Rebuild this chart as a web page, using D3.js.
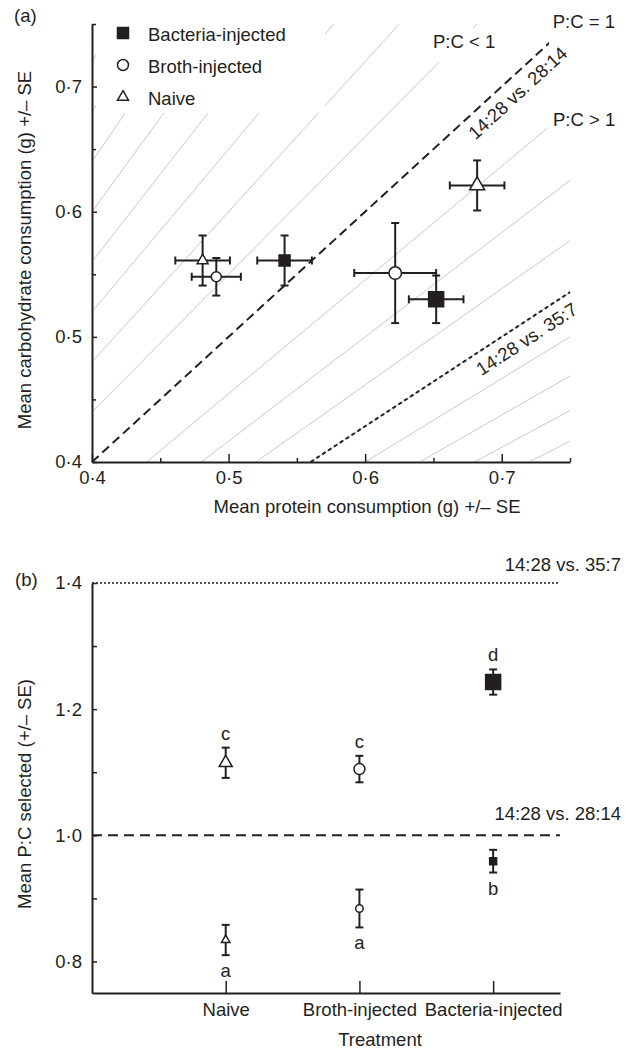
<!DOCTYPE html>
<html>
<head>
<meta charset="utf-8">
<script src="https://cdn.jsdelivr.net/npm/d3@7"></script>
<style>
  body { margin: 0; background: #fff; }
  text { font-family: "Liberation Sans", Arial, Helvetica, sans-serif; fill: #231f20; }
</style>
</head>
<body>
<svg id="chart" width="633" height="1049"></svg>
<script>
// ---- data ----
// panel (a): mean intake per treatment, two choice experiments
const treatmentsA = ["Bacteria-injected", "Broth-injected", "Naive"];
// 14:28 vs. 28:14
const protein2814 = [0.541, 0.491, 0.481];
const proteinSE2814 = [0.02, 0.018, 0.02];
const carb2814 = [0.561, 0.548, 0.561];
const carbSE2814 = [0.02, 0.015, 0.02];
// 14:28 vs. 35:7
const protein357 = [0.652, 0.622, 0.682];
const proteinSE357 = [0.02, 0.03, 0.02];
const carb357 = [0.53, 0.551, 0.621];
const carbSE357 = [0.019, 0.04, 0.02];
// grey P:C guide lines (both sides of 1)
const guideRatios = [1.1, 1.2, 1.3, 1.4, 1.5, 1.6, 1.7, 1.8];
const xMajorA = [0.4, 0.5, 0.6, 0.7];
const xMinorA = [0.45, 0.55, 0.65, 0.75];
const yMajorA = [0.4, 0.5, 0.6, 0.7];
const yMinorA = [0.45, 0.55, 0.65, 0.75];

// panel (b): mean P:C selected
const treatmentsB = ["Naive", "Broth-injected", "Bacteria-injected"];
const ratio2814 = [0.834, 0.884, 0.959];
const ratioSE2814 = [0.024, 0.03, 0.018];
const letters2814 = ["a", "a", "b"];
const ratio357 = [1.115, 1.105, 1.243];
const ratioSE357 = [0.024, 0.021, 0.02];
const letters357 = ["c", "c", "d"];
const yMajorB = [0.8, 1.0, 1.2, 1.4];
const yMinorB = [0.9, 1.1, 1.3];

const ink = "#231f20";
const fontSize = 18.5;
const symbolOf = {
  "Bacteria-injected": d3.symbolSquare,
  "Broth-injected": d3.symbolCircle,
  "Naive": d3.symbolTriangle
};
const fillOf = { "Bacteria-injected": ink, "Broth-injected": "#fff", "Naive": "#fff" };

// marker area from a visual width in px
function symbolArea(name, w) {
  if (name === "Broth-injected") return Math.PI * w * w / 4;
  if (name === "Naive") return Math.sqrt(3) / 4 * w * w;
  return w * w;
}

const fmt = (d) => d3.format(".1f")(d).replace(".", "·");
const svg = d3.select("#chart");

function styleAxis(g) {
  g.attr("font-family", null).attr("font-size", fontSize);
  g.select(".domain").attr("stroke", ink).attr("stroke-width", 2);
  g.selectAll(".tick line").attr("stroke", ink).attr("stroke-width", 1.5);
  g.selectAll(".tick text").attr("fill", ink);
}

function addMarker(g, name, x, y, w) {
  g.append("path")
    .attr("d", d3.symbol(symbolOf[name], symbolArea(name, w))())
    .attr("transform", `translate(${x},${y})`)
    .attr("fill", fillOf[name])
    .attr("stroke", ink)
    .attr("stroke-width", 1.5);
}

function whiteBox(g, x0, y0, x1, y1) {
  g.append("rect").attr("x", x0).attr("y", y0)
    .attr("width", x1 - x0).attr("height", y1 - y0).attr("fill", "#fff");
}

// ================= panel (a) =================
const xA = d3.scaleLinear().domain([0.4, 0.75]).range([92, 570]);
const yA = d3.scaleLinear().domain([0.4, 0.75]).range([462, 24]);
const pa = svg.append("g");

// segment of the line C = k * P inside the plot window
function ratioSegment(k) {
  const [lo, hi] = xA.domain();
  const x1 = Math.max(lo, lo / k);
  const x2 = Math.min(hi, hi / k);
  return [[xA(x1), yA(k * x1)], [xA(x2), yA(k * x2)]];
}

const guideKs = guideRatios.concat(guideRatios.map((r) => 1 / r));
pa.selectAll("line.guide")
  .data(guideKs)
  .enter()
  .append("line")
  .attr("class", "guide")
  .attr("x1", (k) => ratioSegment(k)[0][0])
  .attr("y1", (k) => ratioSegment(k)[0][1])
  .attr("x2", (k) => ratioSegment(k)[1][0])
  .attr("y2", (k) => ratioSegment(k)[1][1])
  .attr("stroke", "#c9c9c9")
  .attr("stroke-width", 1);

// P:C = 1 and P:C = 1.4 choice lines
const choiceLines = [
  { k: 1, dash: "9,5", t: 0.704, label: "14:28 vs. 28:14" },
  { k: 1 / 1.4, dash: "4,3", t: 0.712, label: "14:28 vs. 35:7" }
];
choiceLines.forEach((c) => {
  const s = ratioSegment(c.k);
  pa.append("line")
    .attr("x1", s[0][0]).attr("y1", s[0][1])
    .attr("x2", s[1][0]).attr("y2", s[1][1])
    .attr("stroke", ink)
    .attr("stroke-width", 2)
    .attr("stroke-dasharray", c.dash);
});

// white backgrounds behind legend and region labels
whiteBox(pa, 96, 24, 325, 113);
whiteBox(pa, 427, 28, 499, 62);
whiteBox(pa, 547, 107, 622, 136);
whiteBox(pa, 549, 6, 622, 45);

// rotated labels along the choice lines
choiceLines.forEach((c) => {
  const px = xA(c.t), py = yA(c.k * c.t);
  const ang = Math.atan2(yA(c.k * 0.7) - yA(c.k * 0.5), xA(0.7) - xA(0.5)) * 180 / Math.PI;
  pa.append("text")
    .attr("transform", `translate(${px},${py}) rotate(${ang})`)
    .attr("y", 22)
    .attr("text-anchor", "middle")
    .attr("font-size", fontSize)
    .text(c.label);
});

pa.append("text").attr("x", 615).attr("y", 28).attr("text-anchor", "end")
  .attr("font-size", fontSize).text("P:C = 1");
pa.append("text").attr("x", 433).attr("y", 48)
  .attr("font-size", fontSize).text("P:C < 1");
pa.append("text").attr("x", 553).attr("y", 126)
  .attr("font-size", fontSize).text("P:C > 1");

// axes
pa.append("g")
  .attr("transform", `translate(0,${yA(0.4)})`)
  .call(d3.axisBottom(xA).tickValues(xMinorA).tickFormat("").tickSizeInner(-4).tickSizeOuter(0))
  .call(styleAxis)
  .call((g) => g.select(".domain").remove());
pa.append("g")
  .attr("transform", `translate(0,${yA(0.4)})`)
  .call(d3.axisBottom(xA).tickValues(xMajorA).tickFormat(fmt).tickSizeInner(-8).tickSizeOuter(0).tickPadding(9))
  .call(styleAxis);
pa.append("g")
  .attr("transform", `translate(${xA(0.4)},0)`)
  .call(d3.axisLeft(yA).tickValues(yMinorA).tickFormat("").tickSizeInner(-4).tickSizeOuter(0))
  .call(styleAxis)
  .call((g) => g.select(".domain").remove());
pa.append("g")
  .attr("transform", `translate(${xA(0.4)},0)`)
  .call(d3.axisLeft(yA).tickValues(yMajorA).tickFormat(fmt).tickSizeInner(-5).tickSizeOuter(0).tickPadding(10))
  .call(styleAxis);

pa.append("text")
  .attr("x", 367).attr("y", 513)
  .attr("text-anchor", "middle")
  .attr("font-size", fontSize)
  .text("Mean protein consumption (g) +/– SE");
pa.append("text")
  .attr("transform", "translate(31,250) rotate(-90)")
  .attr("text-anchor", "middle")
  .attr("font-size", fontSize)
  .text("Mean carbohydrate consumption (g) +/– SE");
pa.append("text").attr("x", 14).attr("y", 22).attr("font-size", fontSize).text("(a)");

// points with error bars
const cap = 4;
function crossBars(g, px, pse, cy, cse) {
  const x = xA(px), y = yA(cy);
  const xl = xA(px - pse), xr = xA(px + pse), yt = yA(cy + cse), yb = yA(cy - cse);
  const b = g.append("g").attr("stroke", ink).attr("stroke-width", 2);
  b.append("line").attr("x1", xl).attr("x2", xr).attr("y1", y).attr("y2", y);
  b.append("line").attr("x1", x).attr("x2", x).attr("y1", yt).attr("y2", yb);
  b.append("line").attr("x1", xl).attr("x2", xl).attr("y1", y - cap).attr("y2", y + cap);
  b.append("line").attr("x1", xr).attr("x2", xr).attr("y1", y - cap).attr("y2", y + cap);
  b.append("line").attr("x1", x - cap).attr("x2", x + cap).attr("y1", yt).attr("y2", yt);
  b.append("line").attr("x1", x - cap).attr("x2", x + cap).attr("y1", yb).attr("y2", yb);
}
const smallW = { "Bacteria-injected": 11, "Broth-injected": 10, "Naive": 11 };
const bigW = { "Bacteria-injected": 15, "Broth-injected": 12.5, "Naive": 15 };
treatmentsA.forEach((t, i) => {
  crossBars(pa, protein2814[i], proteinSE2814[i], carb2814[i], carbSE2814[i]);
  crossBars(pa, protein357[i], proteinSE357[i], carb357[i], carbSE357[i]);
});
treatmentsA.forEach((t, i) => {
  addMarker(pa, t, xA(protein2814[i]), yA(carb2814[i]), smallW[t]);
  addMarker(pa, t, xA(protein357[i]), yA(carb357[i]), bigW[t]);
});

// legend
treatmentsA.forEach((t, i) => {
  const y = 33 + i * 32;
  addMarker(pa, t, 123, y, 11);
  pa.append("text").attr("x", 148).attr("y", y + 8)
    .attr("font-size", fontSize).text(t);
});

// ================= panel (b) =================
const xB = d3.scaleLinear().domain([0, 3.5]).range([92, 560]);
const yB = d3.scaleLinear().domain([0.75, 1.4]).range([993, 583]);
const pb = svg.append("g");

// reference ratio lines
const refLines = [
  { v: 1.4, dash: "2,2", w: 1.5, label: "14:28 vs. 35:7", ly: 571 },
  { v: 1.0, dash: "10,6", w: 2, label: "14:28 vs. 28:14", ly: 820 }
];
refLines.forEach((r) => {
  pb.append("line")
    .attr("x1", xB(0)).attr("x2", xB(3.5))
    .attr("y1", yB(r.v)).attr("y2", yB(r.v))
    .attr("stroke", ink).attr("stroke-width", r.w)
    .attr("stroke-dasharray", r.dash);
  pb.append("text").attr("x", 621).attr("y", r.ly)
    .attr("text-anchor", "end").attr("font-size", fontSize).text(r.label);
});

pb.append("g")
  .attr("transform", `translate(0,${yB(0.75)})`)
  .call(d3.axisBottom(xB).tickValues([1, 2, 3]).tickFormat((i) => treatmentsB[i - 1])
    .tickSizeInner(-12).tickSizeOuter(0).tickPadding(10))
  .call(styleAxis);
pb.append("g")
  .attr("transform", `translate(${xB(0)},0)`)
  .call(d3.axisLeft(yB).tickValues(yMinorB).tickFormat("").tickSizeInner(-5).tickSizeOuter(0))
  .call(styleAxis)
  .call((g) => g.select(".domain").remove());
pb.append("g")
  .attr("transform", `translate(${xB(0)},0)`)
  .call(d3.axisLeft(yB).tickValues(yMajorB).tickFormat(fmt).tickSizeInner(-5).tickSizeOuter(0).tickPadding(10))
  .call(styleAxis);

pb.append("text")
  .attr("x", 380).attr("y", 1046)
  .attr("text-anchor", "middle").attr("font-size", fontSize).text("Treatment");
pb.append("text")
  .attr("transform", "translate(31,794) rotate(-90)")
  .attr("text-anchor", "middle").attr("font-size", fontSize)
  .text("Mean P:C selected (+/– SE)");
pb.append("text").attr("x", 15).attr("y", 586).attr("font-size", fontSize).text("(b)");

const bigWB = { "Bacteria-injected": 15, "Broth-injected": 11, "Naive": 13 };
const smallWB = { "Bacteria-injected": 7, "Broth-injected": 7.5, "Naive": 8.5 };
function vBar(g, i, m, se, name, w, letter, above) {
  const x = xB(i + 1);
  const yt = yB(m + se), yb = yB(m - se);
  const b = g.append("g").attr("stroke", ink).attr("stroke-width", 2);
  b.append("line").attr("x1", x).attr("x2", x).attr("y1", yt).attr("y2", yb);
  b.append("line").attr("x1", x - cap).attr("x2", x + cap).attr("y1", yt).attr("y2", yt);
  b.append("line").attr("x1", x - cap).attr("x2", x + cap).attr("y1", yb).attr("y2", yb);
  addMarker(g, name, x, yB(m), w);
  g.append("text")
    .attr("x", x).attr("y", above ? yt - 8 : yb + 22)
    .attr("text-anchor", "middle").attr("font-size", fontSize).text(letter);
}
treatmentsB.forEach((t, i) => {
  vBar(pb, i, ratio357[i], ratioSE357[i], t, bigWB[t], letters357[i], true);
  vBar(pb, i, ratio2814[i], ratioSE2814[i], t, smallWB[t], letters2814[i], false);
});
</script>
</body>
</html>
